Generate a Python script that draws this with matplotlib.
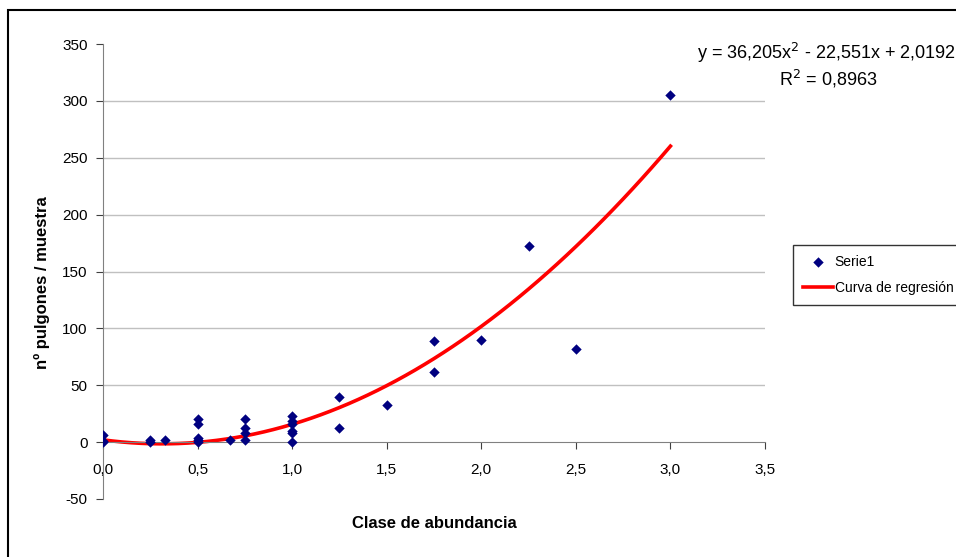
import numpy as np
import matplotlib.pyplot as plt
from matplotlib.patches import Rectangle
from matplotlib.ticker import FuncFormatter

plt.rcParams['font.family'] = ['Liberation Sans', 'DejaVu Sans']
plt.rcParams['axes.unicode_minus'] = False

# observed samples: abundance class vs aphids per sample
clase = [0, 0, 0, 0.25, 0.25, 0.33, 0.5, 0.5, 0.5, 0.5, 0.5, 0.67,
         0.75, 0.75, 0.75, 0.75, 1.0, 1.0, 1.0, 1.0, 1.0, 1.0,
         1.25, 1.25, 1.5, 1.75, 1.75, 2.0, 2.25, 2.5, 3.0]
pulgones = [6, 1, 0, 2, 0, 2, 20, 16, 4, 2, 0, 2,
            20, 12, 8, 2, 23, 19, 16, 10, 8, 0,
            40, 12, 33, 89, 62, 90, 172, 82, 305]

# trendline coefficients as printed on the chart
coef = [36.205, -22.551, 2.0192]
ecuacion = 'y = 36,205x$^2$ - 22,551x + 2,0192'
r2_txt = 'R$^2$ = 0,8963'

# trendline drawn over the data range
x_curva = np.linspace(min(clase), max(clase), 61)
y_curva = np.polyval(coef, x_curva)

fig = plt.figure(figsize=(9.56, 5.57), dpi=100)
ax = fig.add_axes([103/956, 1-499/557, (765-103)/956, (499-44)/557])

for v in [50, 100, 150, 200, 250, 300]:
    ax.axhline(v, color='#c0c0c0', lw=1, zorder=0)

ax.scatter(clase, pulgones, marker='D', s=28, color='#000080', lw=0,
           label='Serie1', zorder=3)
ax.plot(x_curva, y_curva, color='#ff0000', lw=2.6, label='Curva de regresión', zorder=2)

ax.set_xlim(0, 3.5)
ax.set_ylim(-50, 350)
ax.set_xticks(np.arange(0, 3.51, 0.5))
ax.set_yticks(np.arange(-50, 351, 50))
ax.xaxis.set_major_formatter(FuncFormatter(lambda v, p: ('%.1f' % v).replace('.', ',')))
ax.spines['top'].set_visible(False)
ax.spines['right'].set_visible(False)
ax.spines['bottom'].set_position(('data', 0))
ax.spines['left'].set_color('#808080')
ax.spines['bottom'].set_color('#808080')
ax.tick_params(axis='both', direction='out', length=5, color='#404040',
               labelsize=11, pad=6)
ax.tick_params(axis='x', pad=10)
ax.patch.set_alpha(0)

fig.text(42/956, 1-283/557, 'nº pulgones / muestra', rotation=90, fontsize=12,
         fontweight='bold', ha='center', va='center')
fig.text(434/956, 1-524/557, 'Clase de abundancia', fontsize=12,
         fontweight='bold', ha='center', va='center')

fig.text(697/956, 1-53/557, ecuacion, fontsize=13, ha='left', va='center')
fig.text(828/956, 1-79/557, r2_txt, fontsize=13, ha='center', va='center')

leg = fig.legend(loc='upper left', bbox_to_anchor=(793/956, 1-245/557),
                 frameon=True, fancybox=False, fontsize=10, handlelength=2.2,
                 handletextpad=0.1, borderpad=0.7, labelspacing=0.9,
                 borderaxespad=0)
leg.get_frame().set_edgecolor('black')
leg.get_frame().set_linewidth(1)

fig.add_artist(Rectangle((8/956, -0.1), 2, 1.1 - 10/557, transform=fig.transFigure,
                         fill=False, edgecolor='black', lw=1.5))

fig.savefig('out.png', dpi=100)
